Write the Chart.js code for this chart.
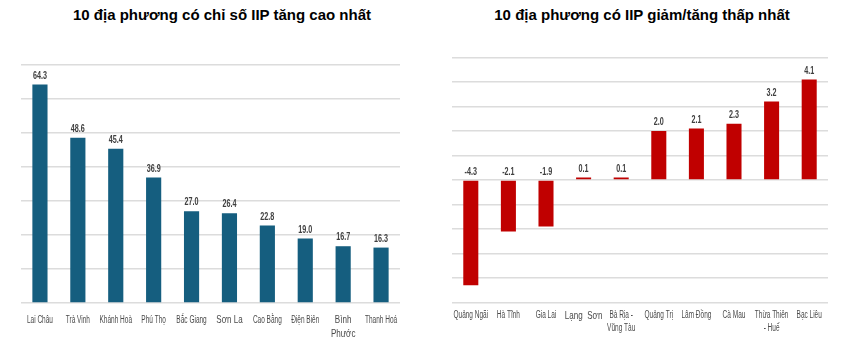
<!DOCTYPE html>
<html>
<head>
<meta charset="utf-8">
<script src="https://cdn.jsdelivr.net/npm/chart.js@4.4.1/dist/chart.umd.min.js"></script>
<style>
  html, body { margin: 0; padding: 0; background: #ffffff; }
  body { width: 842px; height: 356px; position: relative; overflow: hidden; }
  .title { position: absolute; top: 6px; font-family: "Liberation Sans", Arial, sans-serif; font-weight: bold; font-size: 15px; color: #000; white-space: nowrap; transform: translateX(-50%); }
  .box { position: absolute; top: 0; height: 356px; }
</style>
</head>
<body>
<div class="title" style="left:222px;">10 địa phương có chỉ số IIP tăng cao nhất</div>
<div class="title" style="left:642px;">10 địa phương có IIP giảm/tăng thấp nhất</div>
<div class="box" style="left:0;width:420px;"><canvas id="c1" width="420" height="356"></canvas></div>
<div class="box" style="left:420px;width:422px;"><canvas id="c2" width="422" height="356"></canvas></div>
<script>
// ---- data ----
const leftCategories = ["Lai Châu", "Trà Vinh", "Khánh Hoà", "Phú Thọ", "Bắc Giang", "Sơn La", "Cao Bằng", "Điện Biên", ["Bình", "Phước"], "Thanh Hoá"];
const leftValues = [64.3, 48.6, 45.4, 36.9, 27.0, 26.4, 22.8, 19.0, 16.7, 16.3];
const leftBigLabels = [5, 8];

const rightCategories = ["Quảng Ngãi", "Hà Tĩnh", "Gia Lai", "Lạng  Sơn", ["Bà Rịa -", "Vũng Tàu"], "Quảng Trị", "Lâm Đồng", "Cà Mau", ["Thừa Thiên", "- Huế"], "Bạc Liêu"];
const rightValues = [-4.3, -2.1, -1.9, 0.1, 0.1, 2.0, 2.1, 2.3, 3.2, 4.1];
const rightBigLabels = [3];

const leftAxis = { min: 0, max: 70, step: 10 };
const rightAxis = { min: -5, max: 5, step: 1 };

const FONT = '"Liberation Sans", Arial, sans-serif';

// horizontally condensed text helper
function narrowText(ctx, text, x, y, sx) {
  ctx.save();
  ctx.translate(x, y);
  ctx.scale(sx, 1);
  ctx.fillText(text, 0, 0);
  ctx.restore();
}

const valueLabels = {
  id: 'valueLabels',
  afterDatasetsDraw(chart) {
    const ctx = chart.ctx;
    const meta = chart.getDatasetMeta(0);
    const data = chart.data.datasets[0].data;
    ctx.save();
    ctx.font = 'bold 10px ' + FONT;
    ctx.fillStyle = '#404040';
    ctx.textAlign = 'center';
    ctx.textBaseline = 'bottom';
    meta.data.forEach((bar, i) => {
      const v = data[i];
      const top = v >= 0 ? bar.y : bar.base;
      narrowText(ctx, v.toFixed(1), bar.x, top - 3.5, 0.72);
    });
    ctx.restore();
  }
};

const axisLabels = {
  id: 'axisLabels',
  afterDraw(chart, args, opts) {
    const ctx = chart.ctx;
    const xs = chart.scales.x;
    ctx.save();
    ctx.fillStyle = '#4a4a4a';
    ctx.textAlign = 'center';
    ctx.textBaseline = 'middle';
    chart.data.labels.forEach((lab, i) => {
      const big = opts.big.includes(i);
      ctx.font = (big ? 11.5 : 10) + 'px ' + FONT;
      const lines = Array.isArray(lab) ? lab : [lab];
      const x = xs.getPixelForValue(i);
      lines.forEach((ln, k) => {
        narrowText(ctx, ln, x, opts.y + k * (big ? opts.bigLine : opts.line), big ? 0.7 : 0.65);
      });
    });
    ctx.restore();
  }
};

function makeChart(id, labels, values, color, axis, pad, bottomH, labelOpts) {
  return new Chart(document.getElementById(id), {
    type: 'bar',
    data: {
      labels: labels,
      datasets: [{
        data: values,
        backgroundColor: color,
        borderWidth: 0,
        categoryPercentage: 1.0,
        barPercentage: 0.4
      }]
    },
    options: {
      responsive: false,
      animation: false,
      devicePixelRatio: 1,
      layout: { padding: pad },
      plugins: {
        legend: { display: false }, title: { display: false }, tooltip: { enabled: false },
        axisLabels: labelOpts
      },
      scales: {
        x: {
          grid: { display: false, drawTicks: false },
          border: { display: false },
          ticks: { display: false, autoSkip: false },
          afterFit: (s) => { s.height = bottomH; }
        },
        y: {
          min: axis.min,
          max: axis.max,
          ticks: { display: false, stepSize: axis.step },
          grid: { color: '#dcdcdc', lineWidth: 1.5, drawTicks: false },
          border: { display: false },
          afterFit: (s) => { s.width = 0; }
        }
      }
    },
    plugins: [valueLabels, axisLabels]
  });
}

makeChart('c1', leftCategories, leftValues, '#155e7f', leftAxis,
  { left: 21, right: 20, top: 65, bottom: 0 }, 53, { y: 320, line: 13, bigLine: 14, big: leftBigLabels });
makeChart('c2', rightCategories, rightValues, '#c00000', rightAxis,
  { left: 32, right: 14, top: 57.5, bottom: 0 }, 53.5, { y: 315.5, line: 13, bigLine: 13, big: rightBigLabels });
</script>
</body>
</html>
